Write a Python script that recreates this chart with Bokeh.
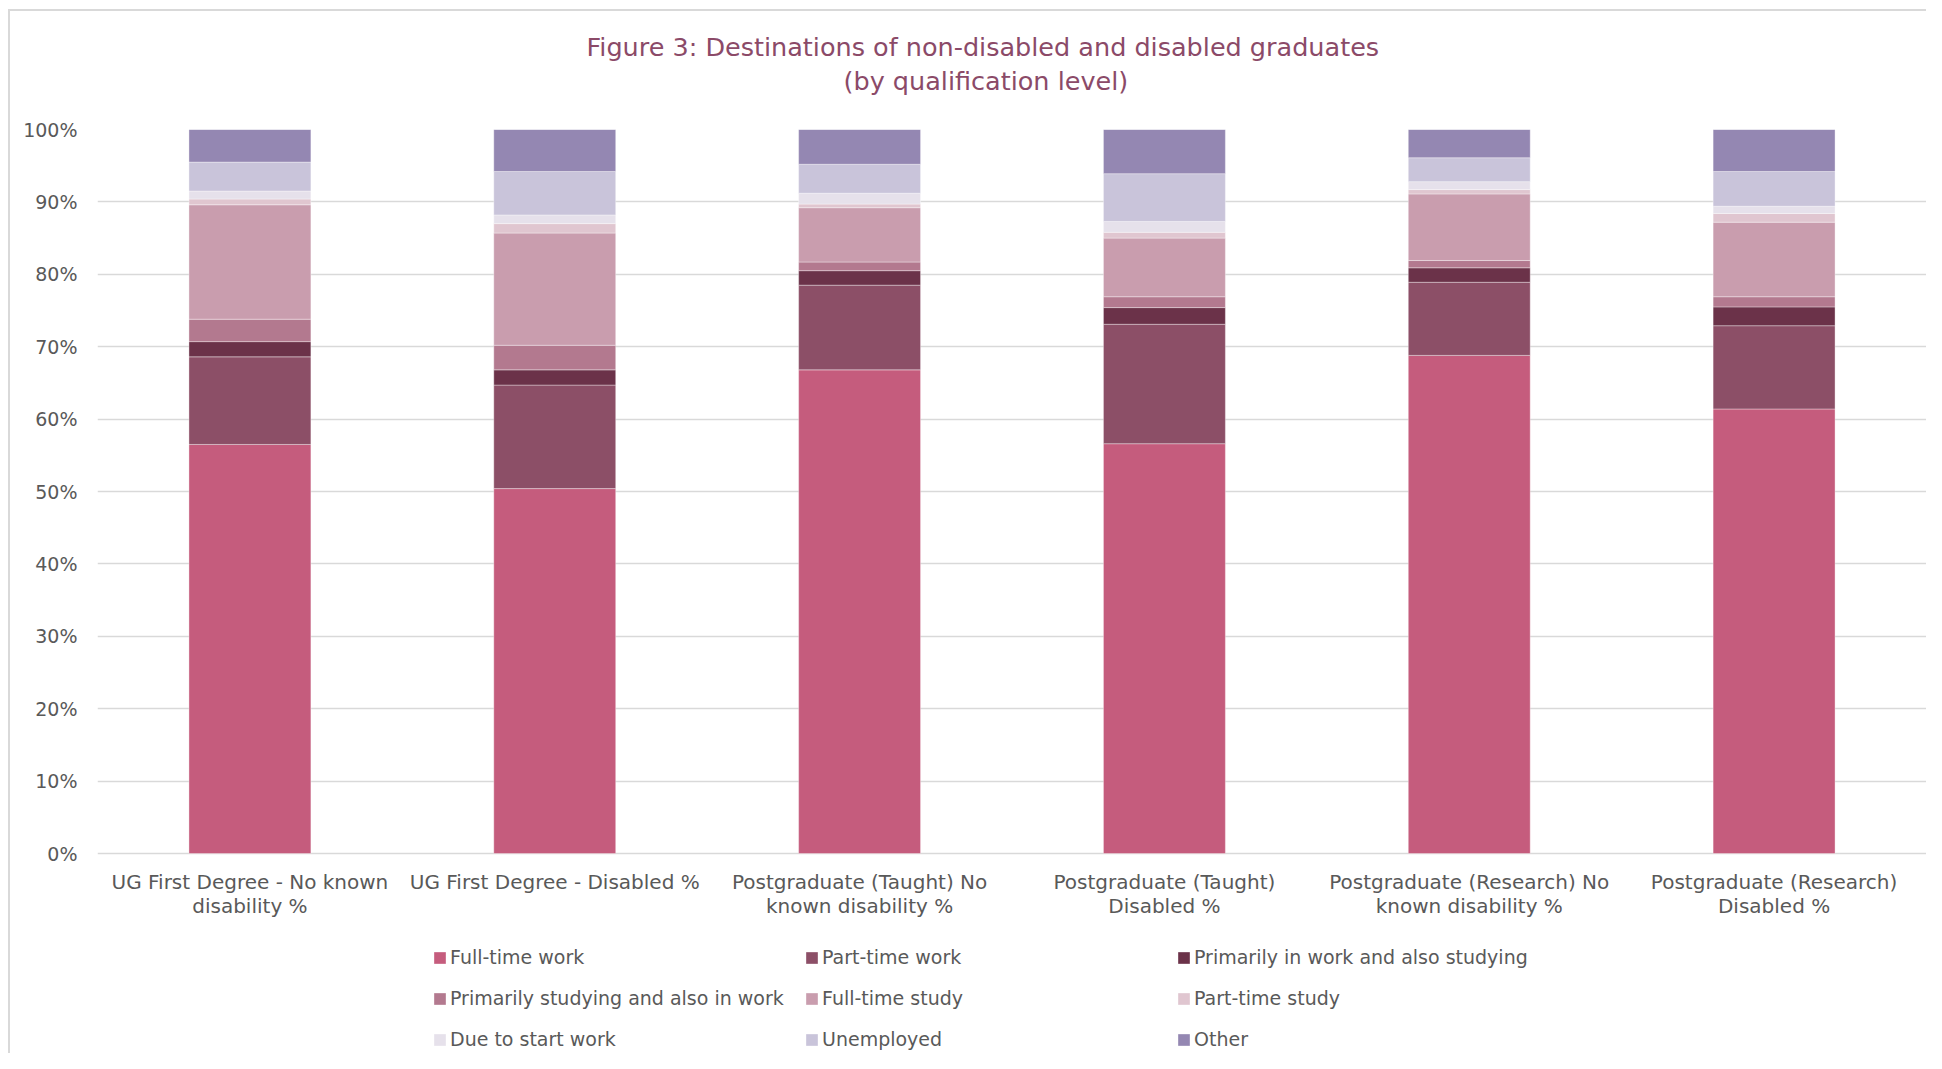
from bokeh.plotting import figure
from bokeh.models import FactorRange, Legend, LegendItem, Title, FixedTicker, Grid
from bokeh.embed import file_html
from bokeh.resources import INLINE
from bokeh.core.properties import value

categories = [
    "UG First Degree - No known disability %",
    "UG First Degree - Disabled %",
    "Postgraduate (Taught) No known disability %",
    "Postgraduate (Taught) Disabled %",
    "Postgraduate (Research) No known disability %",
    "Postgraduate (Research) Disabled %",
]
label_line1 = [
    "UG First Degree - No known",
    "UG First Degree - Disabled %",
    "Postgraduate (Taught) No",
    "Postgraduate (Taught)",
    "Postgraduate (Research) No",
    "Postgraduate (Research)",
]
label_line2 = [
    "disability %",
    "",
    "known disability %",
    "Disabled %",
    "known disability %",
    "Disabled %",
]

full_time_work = [56.5, 50.4, 66.8, 56.6, 68.8, 61.4]
part_time_work = [12.1, 14.3, 11.7, 16.5, 10.1, 11.5]
work_and_study = [2.1, 2.1, 2.0, 2.3, 2.0, 2.6]
study_and_work = [3.1, 3.4, 1.2, 1.5, 1.0, 1.4]
full_time_study = [15.8, 15.5, 7.5, 8.1, 9.2, 10.3]
part_time_study = [0.8, 1.3, 0.5, 0.8, 0.6, 1.2]
due_to_start_work = [1.1, 1.2, 1.5, 1.5, 1.1, 1.0]
unemployed = [4.0, 6.0, 4.0, 6.6, 3.3, 4.8]
other = [4.5, 5.8, 4.8, 6.1, 3.9, 5.8]

series_names = [
    "Full-time work", "Part-time work", "Primarily in work and also studying",
    "Primarily studying and also in work", "Full-time study", "Part-time study",
    "Due to start work", "Unemployed", "Other",
]
series_values = [
    full_time_work, part_time_work, work_and_study, study_and_work,
    full_time_study, part_time_study, due_to_start_work, unemployed, other,
]
series_colors = [
    "#C55C7D", "#8C4F67", "#6B3249", "#B3798F", "#C99DAE",
    "#E0C6D0", "#E6E1EB", "#C9C4DA", "#9487B2",
]

y_ticks = [0, 10, 20, 30, 40, 50, 60, 70, 80, 90, 100]
y_tick_labels = [f"{t}%" for t in y_ticks]

title_line1 = "Figure 3: Destinations of non-disabled and disabled graduates"
title_line2 = "(by qualification level)"

FONT = "DejaVu Sans"
TEXT_COLOR = "#595959"
TITLE_COLOR = "#8B4A68"

# ---- layout geometry (pixels) ----
W, H = 1926, 1053
FRAME_TOP = 129          # where 100% sits
ZERO_Y = 853             # where 0% sits
PX_PER_UNIT = (ZERO_Y - FRAME_TOP) / 100.0
y_bottom = -(H - ZERO_Y) / PX_PER_UNIT   # frame extends below 0 to hold labels & legend
label1_y = -(881 - ZERO_Y) / PX_PER_UNIT
label2_y = -(905 - ZERO_Y) / PX_PER_UNIT

p = figure(
    x_range=FactorRange(factors=categories),
    y_range=(y_bottom, 100),
    width=W, height=H,
    output_backend="svg", toolbar_location=None,
    x_axis_location=None,
    min_border_left=97, min_border_right=0,
    min_border_top=FRAME_TOP, min_border_bottom=0,
)
p.title = None
p.outline_line_color = None
p.background_fill_color = "white"
p.border_fill_color = None
# thin grey chart-area border on the left and top edges
p.styles = {
    "background-color": "white",
    "box-shadow": "inset 8px 9px 0 0 white, inset 10px 11px 0 0 #D9D9D9",
}

data = {"cat": categories}
for name, vals in zip(series_names, series_values):
    data[name] = vals

renderers = p.vbar_stack(
    series_names, x="cat", width=0.4, source=data,
    color=series_colors, line_color="white", line_alpha=0.45, line_width=0.8,
)

# category labels (two lines)
p.text(x=categories, y=[label1_y] * len(categories), text=label_line1,
       text_align="center", text_baseline="middle",
       text_font=value(FONT), text_font_size="20px", text_color=TEXT_COLOR)
p.text(x=categories, y=[label2_y] * len(categories), text=label_line2,
       text_align="center", text_baseline="middle",
       text_font=value(FONT), text_font_size="20px", text_color=TEXT_COLOR)

ya = p.yaxis[0]
ya.ticker = FixedTicker(ticks=y_ticks)
ya.major_label_overrides = dict(zip(y_ticks, y_tick_labels))
ya.axis_line_color = None
ya.major_tick_line_color = None
ya.minor_tick_line_color = None
ya.major_tick_out = 0
ya.major_tick_in = 0
ya.major_label_standoff = 20
ya.major_label_text_font = FONT
ya.major_label_text_font_size = "19px"
ya.major_label_text_color = TEXT_COLOR

for g in p.select(type=Grid):
    if g.dimension == 0:
        g.visible = False
        g.grid_line_color = None
p.ygrid.ticker = FixedTicker(ticks=y_ticks)
p.ygrid.grid_line_color = "#D9D9D9"
p.ygrid.grid_line_width = 1.4

# title (stacked above the frame: spacer, line 2, line 1)
spacer = Title(text=" ", text_font_size="1px", standoff=30)
p.add_layout(spacer, "above")
t2 = Title(text=title_line2, align="left", offset=746, vertical_align="middle",
           text_font=FONT, text_font_size="25.5px", text_font_style="normal",
           text_color=TITLE_COLOR, standoff=0)
p.add_layout(t2, "above")
t1 = Title(text=title_line1, align="left", offset=489, vertical_align="middle",
           text_font=FONT, text_font_size="25.5px", text_font_style="normal",
           text_color=TITLE_COLOR, standoff=4)
p.add_layout(t1, "above")

# legend (inside the extended frame, below the 0% line)
items = [LegendItem(label=n, renderers=[r]) for n, r in zip(series_names, renderers)]
legend = Legend(
    items=items, orientation="horizontal", ncols=3,
    location=(335, 3),
    glyph_width=15, glyph_height=15, label_standoff=3,
    label_width=335, label_height=22, spacing=19,
    padding=0, margin=0,
    border_line_color=None, background_fill_alpha=0,
    label_text_font=FONT, label_text_font_size="19px", label_text_color=TEXT_COLOR,
)
p.add_layout(legend, "center")

open("out.html", "w").write(file_html(p, INLINE))
